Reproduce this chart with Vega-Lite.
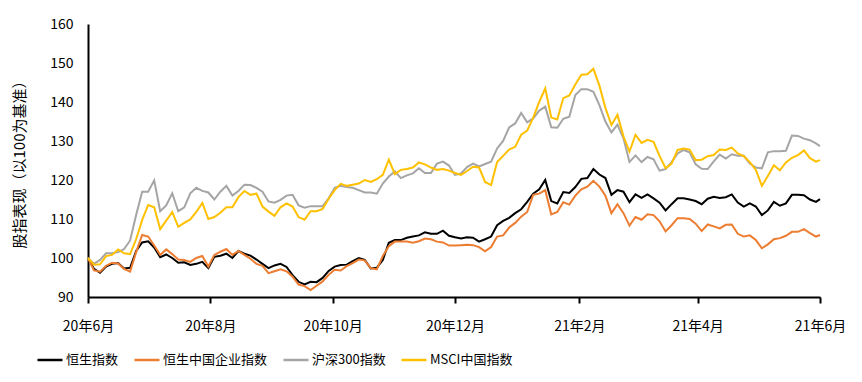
{
  "$schema": "https://vega.github.io/schema/vega-lite/v6.json",
  "width": 732,
  "height": 273,
  "autosize": {"type": "none"},
  "padding": {"left": 88, "top": 24, "right": 42, "bottom": 85},
  "background": "white",
  "config": {"view": {"stroke": null}, "font": "Noto Sans CJK SC"},
  "data": {"values": [
    {"d":"2020/06/01","恒生指数":100,"恒生中国企业指数":100,"沪深300指数":100,"MSCI中国指数":100},
    {"d":"2020/06/04","恒生指数":97.2,"恒生中国企业指数":96.8,"沪深300指数":98.5,"MSCI中国指数":98.3},
    {"d":"2020/06/07","恒生指数":96.2,"恒生中国企业指数":96.5,"沪深300指数":99.5,"MSCI中国指数":98.4},
    {"d":"2020/06/10","恒生指数":97.8,"恒生中国企业指数":98.0,"沪深300指数":101.2,"MSCI中国指数":100.5},
    {"d":"2020/06/13","恒生指数":98.5,"恒生中国企业指数":98.8,"沪深300指数":101.2,"MSCI中国指数":100.8},
    {"d":"2020/06/16","恒生指数":98.7,"恒生中国企业指数":98.6,"沪深300指数":101.5,"MSCI中国指数":102.2},
    {"d":"2020/06/19","恒生指数":97.3,"恒生中国企业指数":97.2,"沪深300指数":102.3,"MSCI中国指数":101.2},
    {"d":"2020/06/22","恒生指数":97.5,"恒生中国企业指数":96.5,"沪深300指数":104.5,"MSCI中国指数":101.0},
    {"d":"2020/06/25","恒生指数":101.8,"恒生中国企业指数":101.5,"沪深300指数":111,"MSCI中国指数":104.8},
    {"d":"2020/06/28","恒生指数":104.0,"恒生中国企业指数":105.9,"沪深300指数":117,"MSCI中国指数":109.7},
    {"d":"2020/07/01","恒生指数":104.3,"恒生中国企业指数":105.5,"沪深300指数":117,"MSCI中国指数":113.6},
    {"d":"2020/07/04","恒生指数":102.7,"恒生中国企业指数":103.2,"沪深300指数":119.9,"MSCI中国指数":113.0},
    {"d":"2020/07/07","恒生指数":100.2,"恒生中国企业指数":100.8,"沪深300指数":112,"MSCI中国指数":107.4},
    {"d":"2020/07/10","恒生指数":100.9,"恒生中国企业指数":102.2,"沪深300指数":113.5,"MSCI中国指数":109.6},
    {"d":"2020/07/13","恒生指数":100,"恒生中国企业指数":101,"沪深300指数":116.6,"MSCI中国指数":111.8},
    {"d":"2020/07/16","恒生指数":98.8,"恒生中国企业指数":99.6,"沪深300指数":112,"MSCI中国指数":108},
    {"d":"2020/07/19","恒生指数":98.9,"恒生中国企业指数":99.5,"沪深300指数":113,"MSCI中国指数":109},
    {"d":"2020/07/22","恒生指数":98.2,"恒生中国企业指数":99.0,"沪深300指数":116.6,"MSCI中国指数":109.9},
    {"d":"2020/07/25","恒生指数":98.5,"恒生中国企业指数":100,"沪深300指数":118,"MSCI中国指数":111.8},
    {"d":"2020/07/28","恒生指数":99,"恒生中国企业指数":100.5,"沪深300指数":117.2,"MSCI中国指数":114.1},
    {"d":"2020/07/31","恒生指数":97.4,"恒生中国企业指数":97.8,"沪深300指数":116.8,"MSCI中国指数":110},
    {"d":"2020/08/03","恒生指数":100.3,"恒生中国企业指数":100.8,"沪深300指数":115,"MSCI中国指数":110.5},
    {"d":"2020/08/06","恒生指数":100.6,"恒生中国企业指数":101.6,"沪深300指数":117,"MSCI中国指数":111.6},
    {"d":"2020/08/09","恒生指数":101.1,"恒生中国企业指数":102.3,"沪深300指数":118.5,"MSCI中国指数":113},
    {"d":"2020/08/12","恒生指数":100,"恒生中国企业指数":100.8,"沪深300指数":116,"MSCI中国指数":113},
    {"d":"2020/08/15","恒生指数":101.8,"恒生中国企业指数":101.8,"沪深300指数":117.2,"MSCI中国指数":115.6},
    {"d":"2020/08/18","恒生指数":101.1,"恒生中国企业指数":100.8,"沪深300指数":118.8,"MSCI中国指数":117.2},
    {"d":"2020/08/21","恒生指数":100.6,"恒生中国企业指数":99.8,"沪深300指数":118.7,"MSCI中国指数":116.2},
    {"d":"2020/08/24","恒生指数":99.6,"恒生中国企业指数":98.5,"沪深300指数":118,"MSCI中国指数":116.5},
    {"d":"2020/08/27","恒生指数":98.5,"恒生中国企业指数":98,"沪深300指数":117,"MSCI中国指数":113.2},
    {"d":"2020/08/30","恒生指数":97.4,"恒生中国企业指数":96.1,"沪深300指数":114.5,"MSCI中国指数":111.9},
    {"d":"2020/09/02","恒生指数":98.1,"恒生中国企业指数":96.6,"沪深300指数":114.2,"MSCI中国指数":110.8},
    {"d":"2020/09/05","恒生指数":98.5,"恒生中国企业指数":97.1,"沪深300指数":114.9,"MSCI中国指数":113},
    {"d":"2020/09/08","恒生指数":97.7,"恒生中国企业指数":96.6,"沪深300指数":116,"MSCI中国指数":114},
    {"d":"2020/09/11","恒生指数":95.6,"恒生中国企业指数":95.2,"沪深300指数":116.2,"MSCI中国指数":113.2},
    {"d":"2020/09/14","恒生指数":93.9,"恒生中国企业指数":93.2,"沪深300指数":113.5,"MSCI中国指数":110.5},
    {"d":"2020/09/17","恒生指数":93.2,"恒生中国企业指数":92.8,"沪深300指数":112.9,"MSCI中国指数":109.8},
    {"d":"2020/09/20","恒生指数":93.9,"恒生中国企业指数":91.8,"沪深300指数":113.3,"MSCI中国指数":112},
    {"d":"2020/09/23","恒生指数":93.8,"恒生中国企业指数":92.9,"沪深300指数":113.3,"MSCI中国指数":112},
    {"d":"2020/09/26","恒生指数":94.9,"恒生中国企业指数":94,"沪深300指数":113.3,"MSCI中国指数":112.6},
    {"d":"2020/09/29","恒生指数":96.7,"恒生中国企业指数":95.7,"沪深300指数":115.3,"MSCI中国指数":115.2},
    {"d":"2020/10/02","恒生指数":97.8,"恒生中国企业指数":97,"沪深300指数":118,"MSCI中国指数":117.4},
    {"d":"2020/10/05","恒生指数":98.2,"恒生中国企业指数":96.8,"沪深300指数":118.5,"MSCI中国指数":119},
    {"d":"2020/10/08","恒生指数":98.3,"恒生中国企业指数":97.9,"沪深300指数":118.2,"MSCI中国指数":118.5},
    {"d":"2020/10/11","恒生指数":99.2,"恒生中国企业指数":98.7,"沪深300指数":118,"MSCI中国指数":118.8},
    {"d":"2020/10/14","恒生指数":100,"恒生中国企业指数":99.6,"沪深300指数":117.4,"MSCI中国指数":119.1},
    {"d":"2020/10/17","恒生指数":99.5,"恒生中国企业指数":99.4,"沪深300指数":116.8,"MSCI中国指数":120},
    {"d":"2020/10/20","恒生指数":97.3,"恒生中国企业指数":97.4,"沪深300指数":116.8,"MSCI中国指数":119.5},
    {"d":"2020/10/23","恒生指数":97.5,"恒生中国企业指数":97.1,"沪深300指数":116.5,"MSCI中国指数":120.2},
    {"d":"2020/10/26","恒生指数":99.5,"恒生中国企业指数":100.5,"沪深300指数":119.1,"MSCI中国指数":121.3},
    {"d":"2020/10/29","恒生指数":103.9,"恒生中国企业指数":103,"沪深300指数":120.9,"MSCI中国指数":125.2},
    {"d":"2020/11/01","恒生指数":104.6,"恒生中国企业指数":104.2,"沪深300指数":122.2,"MSCI中国指数":121.5},
    {"d":"2020/11/04","恒生指数":104.6,"恒生中国企业指数":104.2,"沪深300指数":120.5,"MSCI中国指数":122.6},
    {"d":"2020/11/07","恒生指数":105.2,"恒生中国企业指数":104.2,"沪深300指数":121.2,"MSCI中国指数":122.8},
    {"d":"2020/11/10","恒生指数":105.5,"恒生中国企业指数":103.9,"沪深300指数":121.7,"MSCI中国指数":123.2},
    {"d":"2020/11/13","恒生指数":105.8,"恒生中国企业指数":104.3,"沪深300指数":123,"MSCI中国指数":124.5},
    {"d":"2020/11/16","恒生指数":106.6,"恒生中国企业指数":105,"沪深300指数":121.8,"MSCI中国指数":124},
    {"d":"2020/11/19","恒生指数":106.2,"恒生中国企业指数":104.8,"沪深300指数":121.8,"MSCI中国指数":123.2},
    {"d":"2020/11/22","恒生指数":106.2,"恒生中国企业指数":104.2,"沪深300指数":124.2,"MSCI中国指数":122.6},
    {"d":"2020/11/25","恒生指数":107,"恒生中国企业指数":104,"沪深300指数":124.7,"MSCI中国指数":122.8},
    {"d":"2020/11/28","恒生指数":105.7,"恒生中国企业指数":103.2,"沪深300指数":123.7,"MSCI中国指数":122.4},
    {"d":"2020/12/01","恒生指数":105.3,"恒生中国企业指数":103.2,"沪深300指数":121.3,"MSCI中国指数":121.8},
    {"d":"2020/12/04","恒生指数":105,"恒生中国企业指数":103.3,"沪深300指数":121.7,"MSCI中国指数":121.3},
    {"d":"2020/12/07","恒生指数":105.3,"恒生中国企业指数":103.4,"沪深300指数":123.3,"MSCI中国指数":122.3},
    {"d":"2020/12/10","恒生指数":105.2,"恒生中国企业指数":103.3,"沪深300指数":124.2,"MSCI中国指数":123.4},
    {"d":"2020/12/13","恒生指数":104.2,"恒生中国企业指数":102.8,"沪深300指数":123.5,"MSCI中国指数":123.2},
    {"d":"2020/12/16","恒生指数":104.8,"恒生中国企业指数":101.7,"沪深300指数":124.1,"MSCI中国指数":119.5},
    {"d":"2020/12/19","恒生指数":105.5,"恒生中国企业指数":102.8,"沪深300指数":124.7,"MSCI中国指数":118.7},
    {"d":"2020/12/22","恒生指数":108.4,"恒生中国企业指数":105.5,"沪深300指数":128.1,"MSCI中国指数":124.6},
    {"d":"2020/12/25","恒生指数":109.5,"恒生中国企业指数":105.8,"沪深300指数":130,"MSCI中国指数":126.2},
    {"d":"2020/12/28","恒生指数":110.3,"恒生中国企业指数":107.8,"沪深300指数":133.5,"MSCI中国指数":127.8},
    {"d":"2020/12/31","恒生指数":111.5,"恒生中国企业指数":109,"沪深300指数":134.5,"MSCI中国指数":128.5},
    {"d":"2021/01/03","恒生指数":112.5,"恒生中国企业指数":110.6,"沪深300指数":137.2,"MSCI中国指数":131.6},
    {"d":"2021/01/06","恒生指数":114.4,"恒生中国企业指数":111.8,"沪深300指数":134.8,"MSCI中国指数":132.7},
    {"d":"2021/01/09","恒生指数":116.5,"恒生中国企业指数":116.2,"沪深300指数":135.8,"MSCI中国指数":136},
    {"d":"2021/01/12","恒生指数":117.6,"恒生中国企业指数":116.5,"沪深300指数":137.8,"MSCI中国指数":140},
    {"d":"2021/01/15","恒生指数":120,"恒生中国企业指数":117.4,"沪深300指数":138.8,"MSCI中国指数":143.5},
    {"d":"2021/01/18","恒生指数":114.6,"恒生中国企业指数":111.2,"沪深300指数":133.5,"MSCI中国指数":136},
    {"d":"2021/01/21","恒生指数":114,"恒生中国企业指数":111.8,"沪深300指数":133.4,"MSCI中国指数":135.5},
    {"d":"2021/01/24","恒生指数":116.9,"恒生中国企业指数":114.3,"沪深300指数":135.7,"MSCI中国指数":141},
    {"d":"2021/01/27","恒生指数":116.7,"恒生中国企业指数":113.7,"沪深300指数":136.2,"MSCI中国指数":141.7},
    {"d":"2021/01/30","恒生指数":118.2,"恒生中国企业指数":116,"沪深300指数":141.8,"MSCI中国指数":144.5},
    {"d":"2021/02/02","恒生指数":120.3,"恒生中国企业指数":117.6,"沪深300指数":143.3,"MSCI中国指数":147},
    {"d":"2021/02/05","恒生指数":120.5,"恒生中国企业指数":118.3,"沪深300指数":143.3,"MSCI中国指数":147.1},
    {"d":"2021/02/08","恒生指数":122.8,"恒生中国企业指数":119.8,"沪深300指数":142.6,"MSCI中国指数":148.5},
    {"d":"2021/02/11","恒生指数":121.4,"恒生中国企业指数":118.3,"沪深300指数":139.2,"MSCI中国指数":144.2},
    {"d":"2021/02/14","恒生指数":120.5,"恒生中国企业指数":116,"沪深300指数":135,"MSCI中国指数":138.5},
    {"d":"2021/02/17","恒生指数":116.2,"恒生中国企业指数":111.5,"沪深300指数":132.2,"MSCI中国指数":134.1},
    {"d":"2021/02/20","恒生指数":117.4,"恒生中国企业指数":113.8,"沪深300指数":134.2,"MSCI中国指数":136.7},
    {"d":"2021/02/23","恒生指数":117,"恒生中国企业指数":111.5,"沪深300指数":130.7,"MSCI中国指数":131.2},
    {"d":"2021/02/26","恒生指数":114.3,"恒生中国企业指数":108.3,"沪深300指数":124.6,"MSCI中国指数":127.3},
    {"d":"2021/03/01","恒生指数":116.3,"恒生中国企业指数":110.5,"沪深300指数":126.3,"MSCI中国指数":131.6},
    {"d":"2021/03/04","恒生指数":115.4,"恒生中国企业指数":109.8,"沪深300指数":124.6,"MSCI中国指数":129.5},
    {"d":"2021/03/07","恒生指数":116.3,"恒生中国企业指数":111.2,"沪深300指数":125.9,"MSCI中国指数":130.3},
    {"d":"2021/03/10","恒生指数":115.3,"恒生中国企业指数":111,"沪深300指数":125.3,"MSCI中国指数":129.8},
    {"d":"2021/03/13","恒生指数":114.2,"恒生中国企业指数":109.4,"沪深300指数":122.4,"MSCI中国指数":126.2},
    {"d":"2021/03/16","恒生指数":112.2,"恒生中国企业指数":106.8,"沪深300指数":122.8,"MSCI中国指数":123},
    {"d":"2021/03/19","恒生指数":113.8,"恒生中国企业指数":108.4,"沪深300指数":124.6,"MSCI中国指数":124.2},
    {"d":"2021/03/22","恒生指数":115.3,"恒生中国企业指数":110.2,"沪深300指数":126.8,"MSCI中国指数":127.7},
    {"d":"2021/03/25","恒生指数":115.3,"恒生中国企业指数":110.2,"沪深300指数":127.7,"MSCI中国指数":128.1},
    {"d":"2021/03/28","恒生指数":115,"恒生中国企业指数":110,"沪深300指数":127.1,"MSCI中国指数":127.8},
    {"d":"2021/03/31","恒生指数":114.6,"恒生中国企业指数":108.8,"沪深300指数":124,"MSCI中国指数":125.1},
    {"d":"2021/04/03","恒生指数":113.8,"恒生中国企业指数":106.9,"沪深300指数":122.9,"MSCI中国指数":125.2},
    {"d":"2021/04/06","恒生指数":115.2,"恒生中国企业指数":108.6,"沪深300指数":122.8,"MSCI中国指数":126.1},
    {"d":"2021/04/09","恒生指数":115.7,"恒生中国企业指数":108.1,"沪深300指数":124.8,"MSCI中国指数":126.4},
    {"d":"2021/04/12","恒生指数":115.4,"恒生中国企业指数":107.6,"沪深300指数":126.5,"MSCI中国指数":127.8},
    {"d":"2021/04/15","恒生指数":115.6,"恒生中国企业指数":108.5,"沪深300指数":125.5,"MSCI中国指数":127.7},
    {"d":"2021/04/18","恒生指数":116.3,"恒生中国企业指数":108.6,"沪深300指数":126.6,"MSCI中国指数":128.3},
    {"d":"2021/04/21","恒生指数":114.2,"恒生中国企业指数":106.2,"沪深300指数":126.2,"MSCI中国指数":126.8},
    {"d":"2021/04/24","恒生指数":113.2,"恒生中国企业指数":105.5,"沪深300指数":126.2,"MSCI中国指数":126.1},
    {"d":"2021/04/27","恒生指数":114,"恒生中国企业指数":105.8,"沪深300指数":124.2,"MSCI中国指数":124.6},
    {"d":"2021/04/30","恒生指数":113.2,"恒生中国企业指数":104.6,"沪深300指数":123.2,"MSCI中国指数":122.6},
    {"d":"2021/05/03","恒生指数":111,"恒生中国企业指数":102.5,"沪深300指数":123,"MSCI中国指数":118.5},
    {"d":"2021/05/06","恒生指数":112.2,"恒生中国企业指数":103.5,"沪深300指数":127.1,"MSCI中国指数":121},
    {"d":"2021/05/09","恒生指数":114.4,"恒生中国企业指数":104.8,"沪深300指数":127.4,"MSCI中国指数":123.8},
    {"d":"2021/05/12","恒生指数":113.4,"恒生中国企业指数":105.1,"沪深300指数":127.4,"MSCI中国指数":122.5},
    {"d":"2021/05/15","恒生指数":114,"恒生中国企业指数":105.7,"沪深300指数":127.5,"MSCI中国指数":124.5},
    {"d":"2021/05/18","恒生指数":116.2,"恒生中国企业指数":106.7,"沪深300指数":131.4,"MSCI中国指数":125.7},
    {"d":"2021/05/21","恒生指数":116.2,"恒生中国企业指数":106.7,"沪深300指数":131.3,"MSCI中国指数":126.4},
    {"d":"2021/05/24","恒生指数":116.1,"恒生中国企业指数":107.4,"沪深300指数":130.6,"MSCI中国指数":127.6},
    {"d":"2021/05/27","恒生指数":115,"恒生中国企业指数":106.4,"沪深300指数":130.2,"MSCI中国指数":125.6},
    {"d":"2021/05/30","恒生指数":114.4,"恒生中国企业指数":105.5,"沪深300指数":129.4,"MSCI中国指数":124.7},
    {"d":"2021/06/01","恒生指数":115.1,"恒生中国企业指数":105.9,"沪深300指数":128.7,"MSCI中国指数":125.1}
  ]},
  "transform": [
    {"fold": ["恒生指数", "恒生中国企业指数", "沪深300指数", "MSCI中国指数"], "as": ["series", "value"]}
  ],
  "mark": {"type": "line", "strokeWidth": 2, "interpolate": "linear"},
  "encoding": {
    "x": {
      "field": "d",
      "type": "temporal",
      "scale": {"domain": [{"year": 2020, "month": 6, "date": 1}, {"year": 2021, "month": 6, "date": 1}]},
      "axis": {
        "title": null,
        "values": [
          {"year": 2020, "month": 6, "date": 1},
          {"year": 2020, "month": 8, "date": 1},
          {"year": 2020, "month": 10, "date": 1},
          {"year": 2020, "month": 12, "date": 1},
          {"year": 2021, "month": 2, "date": 1},
          {"year": 2021, "month": 4, "date": 1},
          {"year": 2021, "month": 6, "date": 1}
        ],
        "format": "%y年%-m月",
        "labelFontSize": 14,
        "labelColor": "#000",
        "labelFlush": false,
        "labelOverlap": false,
        "labelPadding": 16,
        "domainColor": "#000",
        "domainWidth": 2,
        "tickColor": "#000",
        "tickWidth": 2,
        "tickSize": 6,
        "grid": false
      }
    },
    "y": {
      "field": "value",
      "type": "quantitative",
      "scale": {"domain": [90, 160], "nice": false, "zero": false},
      "axis": {
        "title": "股指表现（以100为基准）",
        "titleFontSize": 15,
        "titleFontWeight": "normal",
        "titleColor": "#000",
        "titlePadding": 22,
        "values": [90, 100, 110, 120, 130, 140, 150, 160],
        "ticks": false,
        "labelPadding": 15,
        "labelFontSize": 14,
        "labelColor": "#000",
        "domainColor": "#000",
        "domainWidth": 2,
        "grid": false
      }
    },
    "color": {
      "field": "series",
      "type": "nominal",
      "scale": {
        "domain": ["恒生指数", "恒生中国企业指数", "沪深300指数", "MSCI中国指数"],
        "range": ["#000000", "#ED7D31", "#A5A5A5", "#FFC000"]
      },
      "legend": {
        "title": null,
        "orient": "none",
        "direction": "horizontal",
        "legendX": -52,
        "legendY": 322,
        "symbolType": "stroke",
        "symbolSize": 625,
        "symbolStrokeWidth": 2.5,
        "labelFontSize": 13,
        "labelColor": "#000",
        "labelOffset": 2,
        "columnPadding": 10
      }
    }
  }
}
